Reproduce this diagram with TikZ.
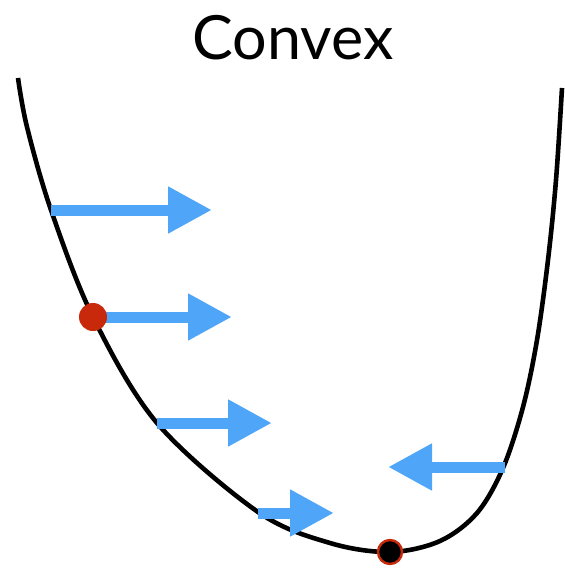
\documentclass[tikz,border=0pt]{standalone}
\usepackage{fontspec}
\newfontfamily\titlefont{Lato}
\usetikzlibrary{arrows.meta}
\definecolor{bluec}{HTML}{4FA6F8}
\definecolor{redc}{HTML}{C7290A}

\begin{document}
\begin{tikzpicture}[x=1pt, y=-1pt,
    push/.style={bluec, line width=11pt, -{Triangle[length=44pt, width=44pt]}},
    dot/.style={circle, inner sep=0pt, minimum size=26pt}]
    \useasboundingbox (0,0) rectangle (564,569);
    \node[font=\titlefont\fontsize{61}{61}\selectfont, anchor=base] (title) at (293,60) {Convex};
    % the convex curve, pixel coordinates (y down)
    \draw[line width=4.6pt] plot[smooth, tension=0.55] coordinates
      {(18,78) (27,127) (51,210) (93,317) (157,423) (258,512) (330,543) (390,552)
       (440,541) (477,513) (503,468) (523,407) (537,340) (548,260) (556,180) (562,88)};
    % gradient steps
    \foreach \i/\xa/\xb/\y in {1/51/212/210, 2/93/232/317, 3/157/272/423, 4/258/334/513, 5/505/388/467} {
      \coordinate (s\i) at (\xa,\y);
      \coordinate (e\i) at (\xb,\y);
      \draw[push] (s\i) -- (e\i);
    }
    \node[dot, fill=redc, minimum width=26pt, minimum height=28pt] (start) at (s2) {};
    \node[dot, fill=black, draw=redc, line width=2.4pt, minimum size=24pt] (optimum) at (390,552) {};
  \end{tikzpicture}
\end{document}
